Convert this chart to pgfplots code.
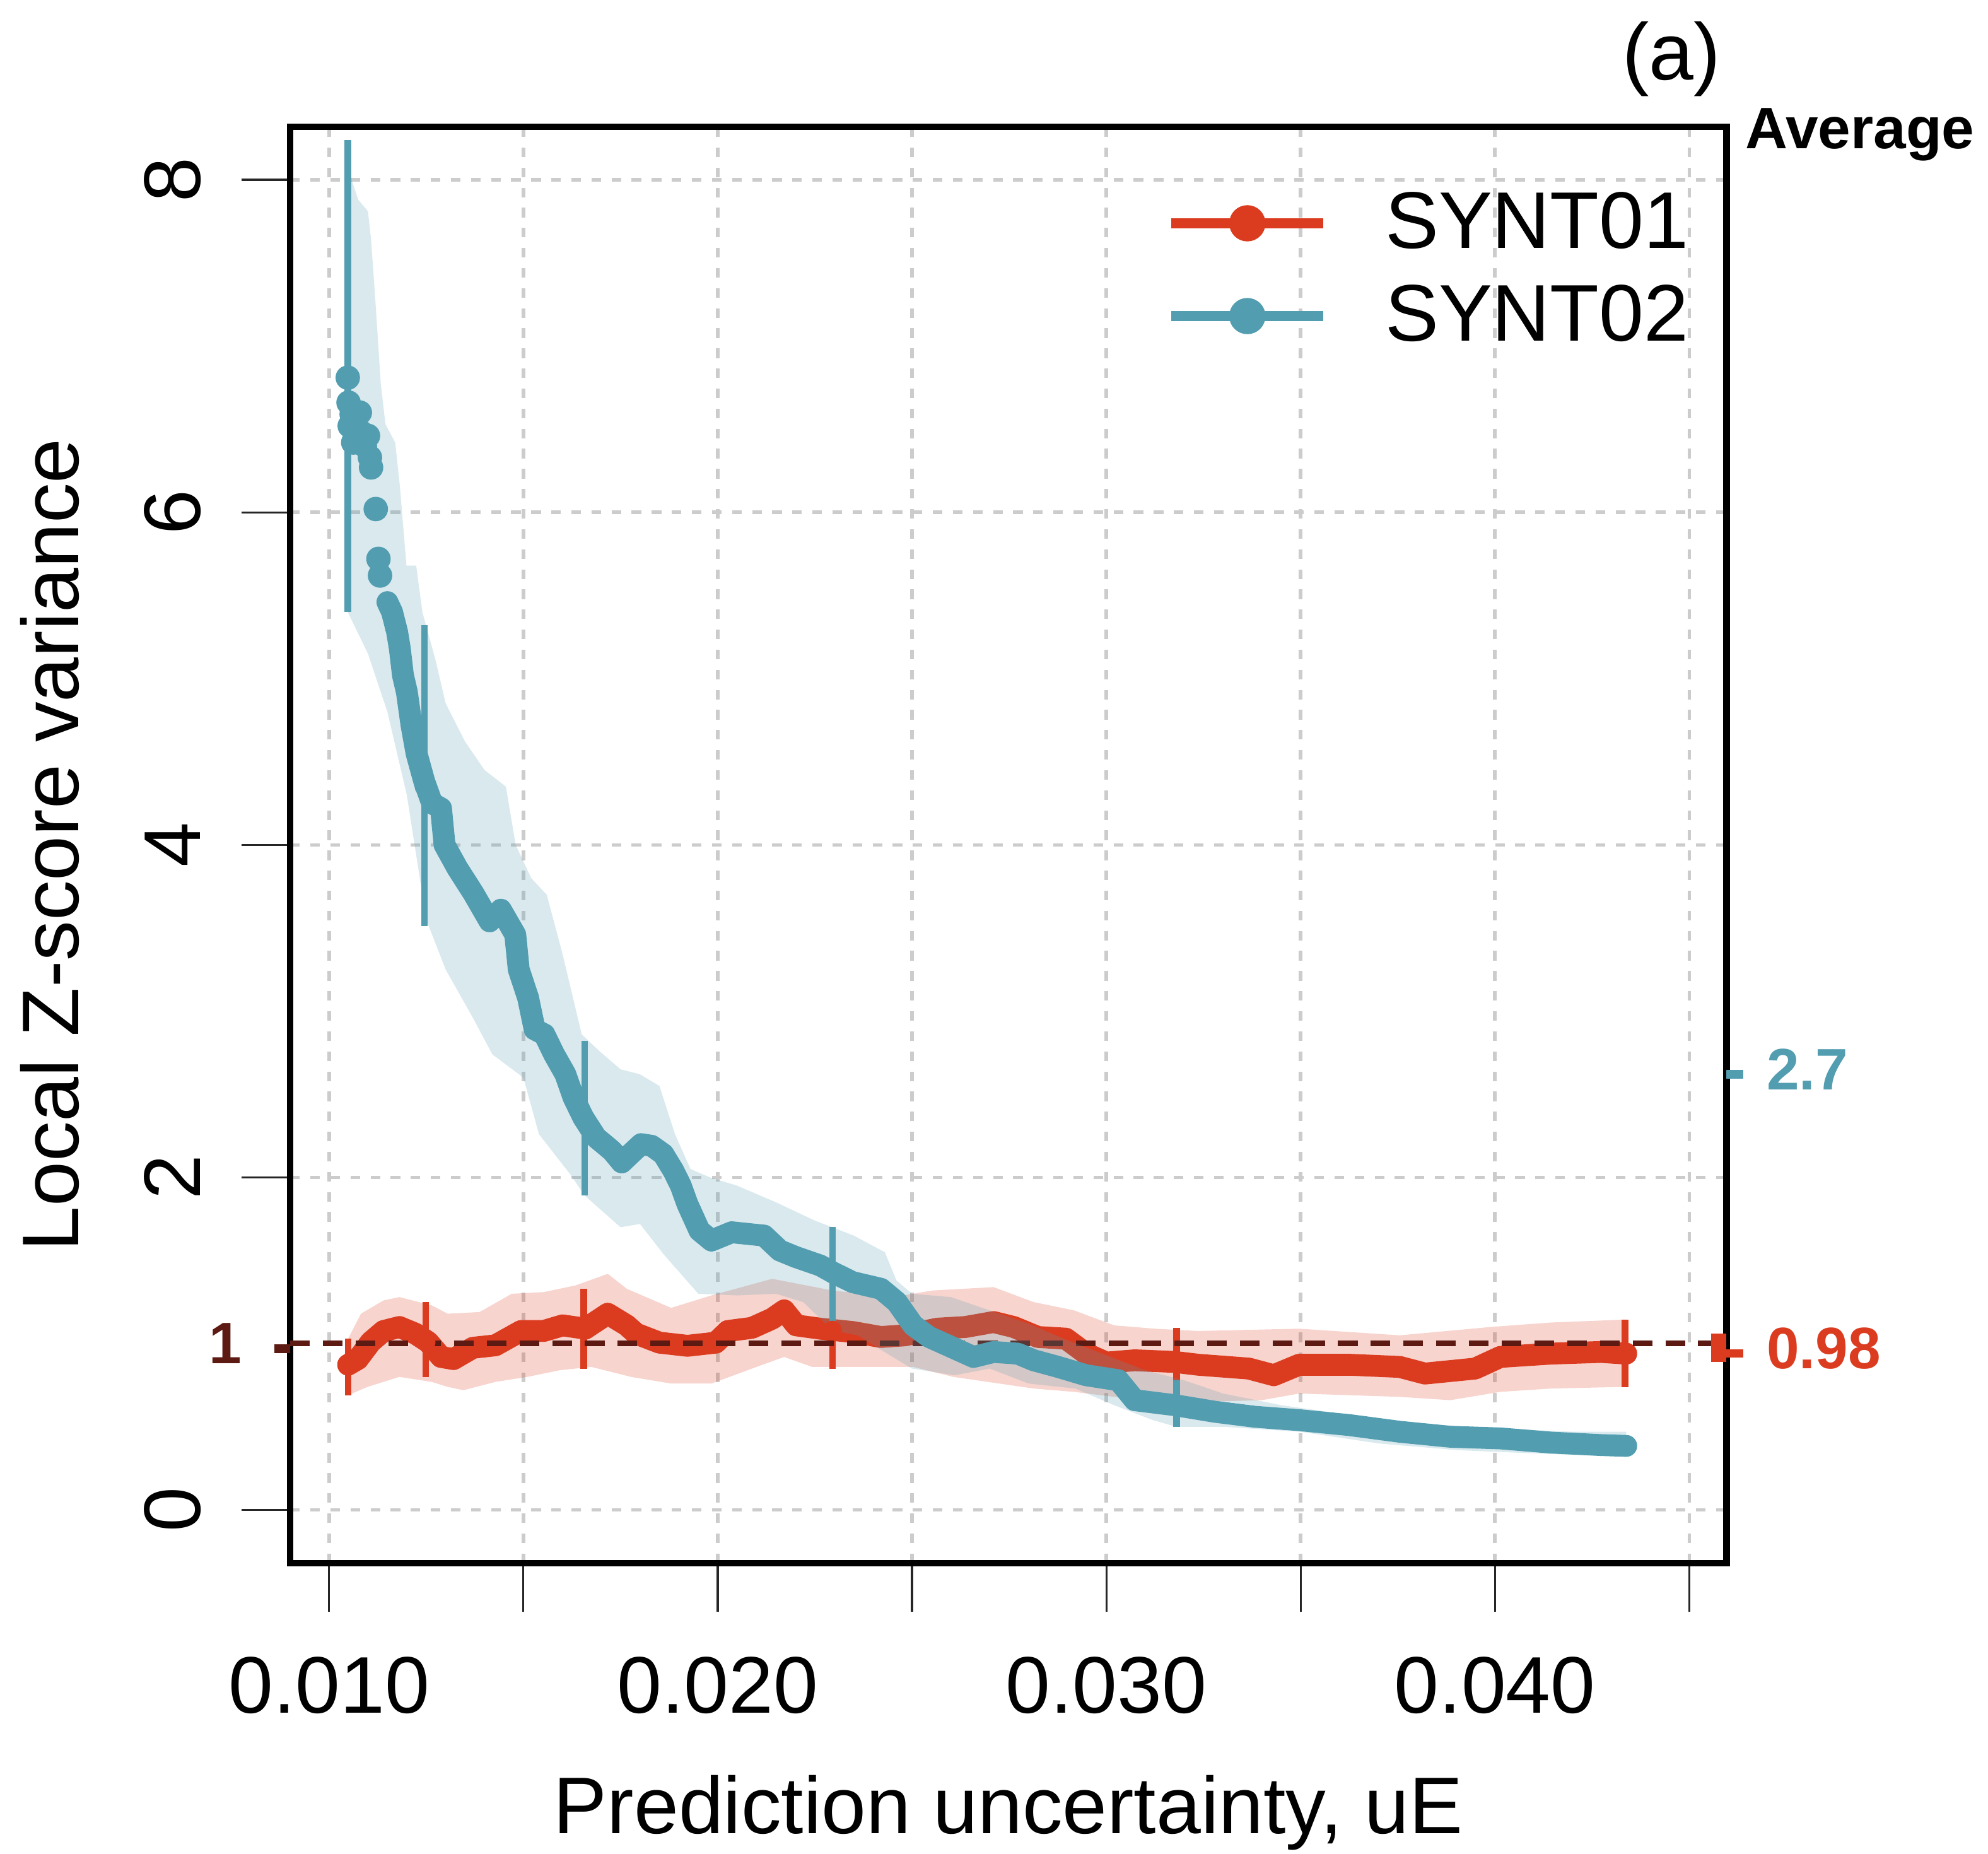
\documentclass[border=0pt]{standalone}
\usepackage{pgfplots}
\pgfplotsset{compat=1.18}
\usepackage{fontspec}
\setmainfont{Liberation Sans}
\definecolor{synred}{RGB}{219,60,32}
\definecolor{synteal}{RGB}{82,157,176}
\definecolor{refdark}{RGB}{92,26,18}
\newcommand{\fbig}{\fontsize{18.4pt}{22pt}\selectfont}
\newcommand{\fsmall}{\fontsize{13.4pt}{16pt}\selectfont\bfseries}
\begin{document}
\begin{tikzpicture}
\begin{axis}[
  scale only axis, width=329pt, height=329pt,
  xmin=0.0090, xmax=0.04596, ymin=-0.32, ymax=8.32,
  clip=false,
  axis line style={line width=1.5pt},
  xtick={0.010,0.015,0.020,0.025,0.030,0.035,0.040,0.045},
  ytick={0,2,4,6,8},
  xticklabels={}, yticklabels={},
  xtick pos=left, ytick pos=left,
  tick align=outside, major tick length=11.2pt,
  major tick style={line width=0.45pt, black!85},
  grid=major,
  major grid style={black!20, line width=0.8pt, dash pattern=on 2.2pt off 2.4pt},
  scaled x ticks=false,
  every axis x label/.style={at={(axis description cs:0.5,-0.1884)}, anchor=base},
  every axis y label/.style={at={(axis description cs:-0.1474,0.5)}, rotate=90, anchor=base},
  label style={font=\fbig},
  xlabel={Prediction uncertainty, uE},
  ylabel={Local Z-score variance},
  legend style={draw=none, fill=none, at={(axis description cs:0.6097,0.9545)}, anchor=north west,
    inner sep=0pt, outer sep=0pt, row sep=6.9pt, font=\fbig, nodes={inner sep=0pt}},
  legend cell align=left,
  legend image code/.code={\draw[line width=2.4pt] (0pt,0pt) -- (34.9pt,0pt); \fill (17.45pt,0pt) circle (3.95pt); \path (48.8pt,0pt);},
]
% ---------- SYNT01 band ----------
\addplot[forget plot, draw=none, fill=synred, fill opacity=0.22] coordinates {
(0.01049,1.03) (0.01082,1.18) (0.0114,1.26) (0.01181,1.28) (0.01264,1.23) (0.01305,1.18)
(0.01387,1.19) (0.01470,1.30) (0.01552,1.31) (0.01634,1.35) (0.01717,1.42) (0.01766,1.33)
(0.0188,1.215) (0.01984,1.29) (0.0214,1.39) (0.02295,1.32) (0.0245,1.28) (0.02554,1.32)
(0.0271,1.34) (0.02813,1.25) (0.02917,1.20) (0.0302,1.11) (0.03124,1.09) (0.03237,1.076)
(0.03496,1.09) (0.03755,1.05) (0.03988,1.10) (0.04144,1.127) (0.04338,1.145)
(0.04338,0.74) (0.04144,0.73) (0.04014,0.71) (0.03885,0.66) (0.03755,0.68) (0.03496,0.70)
(0.0340,0.66) (0.0325,0.65) (0.03124,0.66) (0.0302,0.68) (0.02917,0.71) (0.02813,0.73)
(0.02606,0.80) (0.02503,0.86) (0.02399,0.86) (0.02243,0.86) (0.02171,0.92) (0.02088,0.85)
(0.01984,0.76) (0.0188,0.76) (0.01777,0.80) (0.01675,0.86) (0.01593,0.84) (0.0151,0.80)
(0.01428,0.77) (0.01346,0.72) (0.01305,0.74) (0.01264,0.77) (0.01181,0.80) (0.01099,0.74)
(0.01049,0.69)} -- cycle;
% ---------- SYNT01 curve ----------
\addplot[forget plot, synred, line width=5pt, line join=round, line cap=round] coordinates {
(0.01049,0.873) (0.01074,0.907) (0.01107,1.01) (0.0114,1.076) (0.01181,1.10) (0.01222,1.06)
(0.01255,1.01) (0.01288,0.92) (0.0132,0.907) (0.0137,0.975) (0.01428,0.99) (0.01494,1.076)
(0.01552,1.076) (0.01601,1.11) (0.01659,1.09) (0.01717,1.18) (0.01766,1.11) (0.0179,1.06)
(0.0185,1.006) (0.01922,0.987) (0.01995,1.006) (0.02026,1.076) (0.02088,1.095) (0.0214,1.15)
(0.02171,1.20) (0.02202,1.11) (0.02264,1.09) (0.02347,1.07) (0.0242,1.04) (0.02482,1.05)
(0.02565,1.09) (0.02637,1.10) (0.0271,1.13) (0.02762,1.10) (0.02824,1.04) (0.02896,1.03)
(0.02948,0.94) (0.0300,0.886) (0.03073,0.90) (0.03176,0.89) (0.03237,0.873) (0.03367,0.85)
(0.03431,0.81) (0.03496,0.873) (0.03626,0.873) (0.03755,0.86) (0.0382,0.82) (0.03949,0.85)
(0.04014,0.92) (0.04144,0.94) (0.04273,0.95) (0.04338,0.94)};
% ---------- SYNT01 error bars ----------
\addplot[forget plot, synred, only marks, mark=none,
  error bars/.cd, y dir=both, y explicit, error mark=none,
  error bar style={line width=1.5pt, synred}] coordinates {
(0.01049,0.873) += (0,0.157) -= (0,0.183)
(0.01249,1.01) += (0,0.24) -= (0,0.21)
(0.01655,1.09) += (0,0.24) -= (0,0.24)
(0.02295,1.08) += (0,0.06) -= (0,0.23)
(0.03181,0.89) += (0,0.205) -= (0,0.11)
(0.04335,0.94) += (0,0.205) -= (0,0.20)};
% ---------- reference line ----------
\addplot[forget plot, refdark, line width=1.3pt, dash pattern=on 4.5pt off 3pt] coordinates {(0.0090,1) (0.04596,1)};
% ---------- SYNT02 band ----------
\addplot[forget plot, draw=none, fill=synteal, fill opacity=0.22] coordinates {
(0.01048,8.22) (0.01058,8.0) (0.01075,7.88) (0.0110,7.81) (0.01108,7.64) (0.0112,7.24)
(0.01133,6.77) (0.01145,6.53) (0.0117,6.42) (0.01182,6.16) (0.01199,5.68) (0.01224,5.68)
(0.0124,5.40) (0.01274,5.11) (0.0130,4.85) (0.0135,4.62) (0.0140,4.45) (0.01455,4.35)
(0.0148,4.0) (0.0152,3.8) (0.0156,3.70) (0.0160,3.35) (0.0165,2.86) (0.0170,2.75)
(0.0175,2.65) (0.0180,2.62) (0.0185,2.55) (0.0189,2.26) (0.0193,2.05) (0.0198,2.0)
(0.0205,1.95) (0.0215,1.85) (0.0225,1.74) (0.0235,1.65) (0.0243,1.55) (0.0246,1.38)
(0.0250,1.30) (0.0260,1.28) (0.0270,1.20) (0.0280,1.12) (0.0290,1.02) (0.0300,0.93)
(0.0310,0.84) (0.0320,0.78) (0.0330,0.70) (0.0345,0.63) (0.0360,0.58) (0.0380,0.52)
(0.0400,0.49) (0.0420,0.47) (0.04338,0.47)
(0.04338,0.32) (0.0410,0.34) (0.0390,0.36) (0.0370,0.40) (0.0350,0.47) (0.0330,0.50)
(0.0318,0.50) (0.0312,0.54) (0.0302,0.63) (0.0292,0.73) (0.0280,0.76) (0.0270,0.85)
(0.0261,0.81) (0.0250,0.85) (0.0245,0.92) (0.0236,1.05) (0.02295,1.08) (0.0222,1.25)
(0.0215,1.30) (0.0205,1.29) (0.0195,1.30) (0.0186,1.54) (0.0180,1.72) (0.0175,1.70)
(0.01658,1.89) (0.0162,2.02) (0.0154,2.26) (0.0150,2.60) (0.0142,2.74) (0.0137,2.96)
(0.0130,3.25) (0.0125,3.55) (0.0120,4.3) (0.0115,4.8) (0.0110,5.15) (0.01048,5.40)} -- cycle;
% ---------- SYNT02 sparse top points ----------
\addplot[forget plot, synteal, only marks, mark=*, mark size=2.6pt] coordinates {
(0.01048,6.81) (0.01050,6.66) (0.01053,6.52) (0.01058,6.59) (0.01062,6.42) (0.01070,6.45)
(0.01079,6.60) (0.01083,6.48) (0.01092,6.40) (0.01100,6.46) (0.01105,6.33) (0.01108,6.27)
(0.01120,6.02) (0.01127,5.72) (0.01131,5.62)};
% ---------- SYNT02 curve ----------
\addplot[forget plot, synteal, line width=5pt, line join=round, line cap=round] coordinates {
(0.01150,5.46) (0.01162,5.40) (0.01175,5.28) (0.01182,5.18) (0.0119,5.02) (0.0120,4.92)
(0.01212,4.72) (0.01225,4.55) (0.01245,4.38) (0.01265,4.25) (0.01288,4.22) (0.01297,4.0)
(0.0133,3.86) (0.01371,3.71) (0.01413,3.54) (0.01442,3.61) (0.01479,3.46) (0.01488,3.25)
(0.01512,3.08) (0.01529,2.89) (0.01554,2.86) (0.01579,2.74) (0.01608,2.62) (0.01629,2.48)
(0.01654,2.36) (0.01687,2.24) (0.01728,2.16) (0.01753,2.09) (0.01780,2.15) (0.01803,2.20)
(0.01830,2.19) (0.01860,2.14) (0.01886,2.04) (0.01905,1.95) (0.01922,1.84) (0.01953,1.68)
(0.01984,1.62) (0.02036,1.67) (0.02077,1.66) (0.02119,1.65) (0.0216,1.56) (0.02202,1.52)
(0.02264,1.47) (0.02295,1.43) (0.02347,1.37) (0.0242,1.33) (0.02461,1.25) (0.02503,1.11)
(0.02544,1.04) (0.02606,0.975) (0.02658,0.92) (0.0271,0.95) (0.02772,0.94) (0.02813,0.90)
(0.02876,0.86) (0.02948,0.81) (0.03031,0.78) (0.03073,0.66) (0.03176,0.63) (0.0328,0.59)
(0.03383,0.56) (0.03496,0.54) (0.03626,0.51) (0.03755,0.47) (0.03885,0.44) (0.04014,0.43)
(0.04144,0.405) (0.04273,0.39) (0.04338,0.385)};
% ---------- SYNT02 error bars ----------
\addplot[forget plot, synteal, only marks, mark=none,
  error bars/.cd, y dir=both, y explicit, error mark=none,
  error bar style={line width=1.5pt, synteal}] coordinates {
(0.01048,6.81) += (0,1.43) -= (0,1.41)
(0.01245,4.35) += (0,0.97) -= (0,0.84)
(0.01658,2.36) += (0,0.46) -= (0,0.47)
(0.02295,1.42) += (0,0.28) -= (0,0.34)
(0.03181,0.63) += (0,0.15) -= (0,0.13)};
% ---------- average of SYNT01 at right edge ----------
\addplot[forget plot, synred, line width=3.5pt] coordinates {(0.04576,0.89) (0.04576,1.06)};
% ---------- legend ----------
\addlegendimage{draw=synred, fill=synred}
\addlegendentry{SYNT01}
\addlegendimage{draw=synteal, fill=synteal}
\addlegendentry{SYNT02}
% ---------- tick labels ----------
\node[anchor=base, font=\fbig] at ([yshift=-34.4pt]axis cs:0.010,-0.32) {0.010};
\node[anchor=base, font=\fbig] at ([yshift=-34.4pt]axis cs:0.020,-0.32) {0.020};
\node[anchor=base, font=\fbig] at ([yshift=-34.4pt]axis cs:0.030,-0.32) {0.030};
\node[anchor=base, font=\fbig] at ([yshift=-34.4pt]axis cs:0.040,-0.32) {0.040};
\node[anchor=base, rotate=90, font=\fbig] at ([xshift=-20.6pt]axis cs:0.0090,0) {0};
\node[anchor=base, rotate=90, font=\fbig] at ([xshift=-20.6pt]axis cs:0.0090,2) {2};
\node[anchor=base, rotate=90, font=\fbig] at ([xshift=-20.6pt]axis cs:0.0090,4) {4};
\node[anchor=base, rotate=90, font=\fbig] at ([xshift=-20.6pt]axis cs:0.0090,6) {6};
\node[anchor=base, rotate=90, font=\fbig] at ([xshift=-20.6pt]axis cs:0.0090,8) {8};
% ---------- reference and average annotations ----------
\draw[refdark, line width=2pt] (axis cs:0.0090,0.97) -- ++(-3.7pt,0pt);
\node[anchor=east, inner sep=0pt, text=refdark, font=\fsmall] at ([xshift=-10.9pt]axis cs:0.0090,1.0) {1};
\draw[synteal, line width=1.9pt] (axis cs:0.04596,2.62) -- ++(3.8pt,0pt);
\node[anchor=west, inner sep=0pt, text=synteal, font=\fsmall] at ([xshift=9pt]axis cs:0.04596,2.65) {2.7};
\draw[synred, line width=1.9pt] (axis cs:0.04596,0.94) -- ++(3.8pt,0pt);
\node[anchor=west, inner sep=0pt, text=synred, font=\fsmall] at ([xshift=9pt]axis cs:0.04596,0.97) {0.98};
\node[anchor=base west, inner sep=0pt, font=\fsmall] at ([xshift=4.2pt, yshift=-5.0pt]axis cs:0.04596,8.32) {Average};
\node[anchor=base east, inner sep=0pt, font=\fbig] at ([xshift=-1.2pt, yshift=10.7pt]axis cs:0.04596,8.32) {(a)};
\coordinate (BL) at (rel axis cs:0,0);
\coordinate (TR) at (rel axis cs:1,1);
\end{axis}
\pgfresetboundingbox
\path[use as bounding box] ([shift={(-66.49pt,-66.5pt)}]BL) rectangle ([shift={(59.9pt,29.0pt)}]TR);
\end{tikzpicture}
\end{document}
